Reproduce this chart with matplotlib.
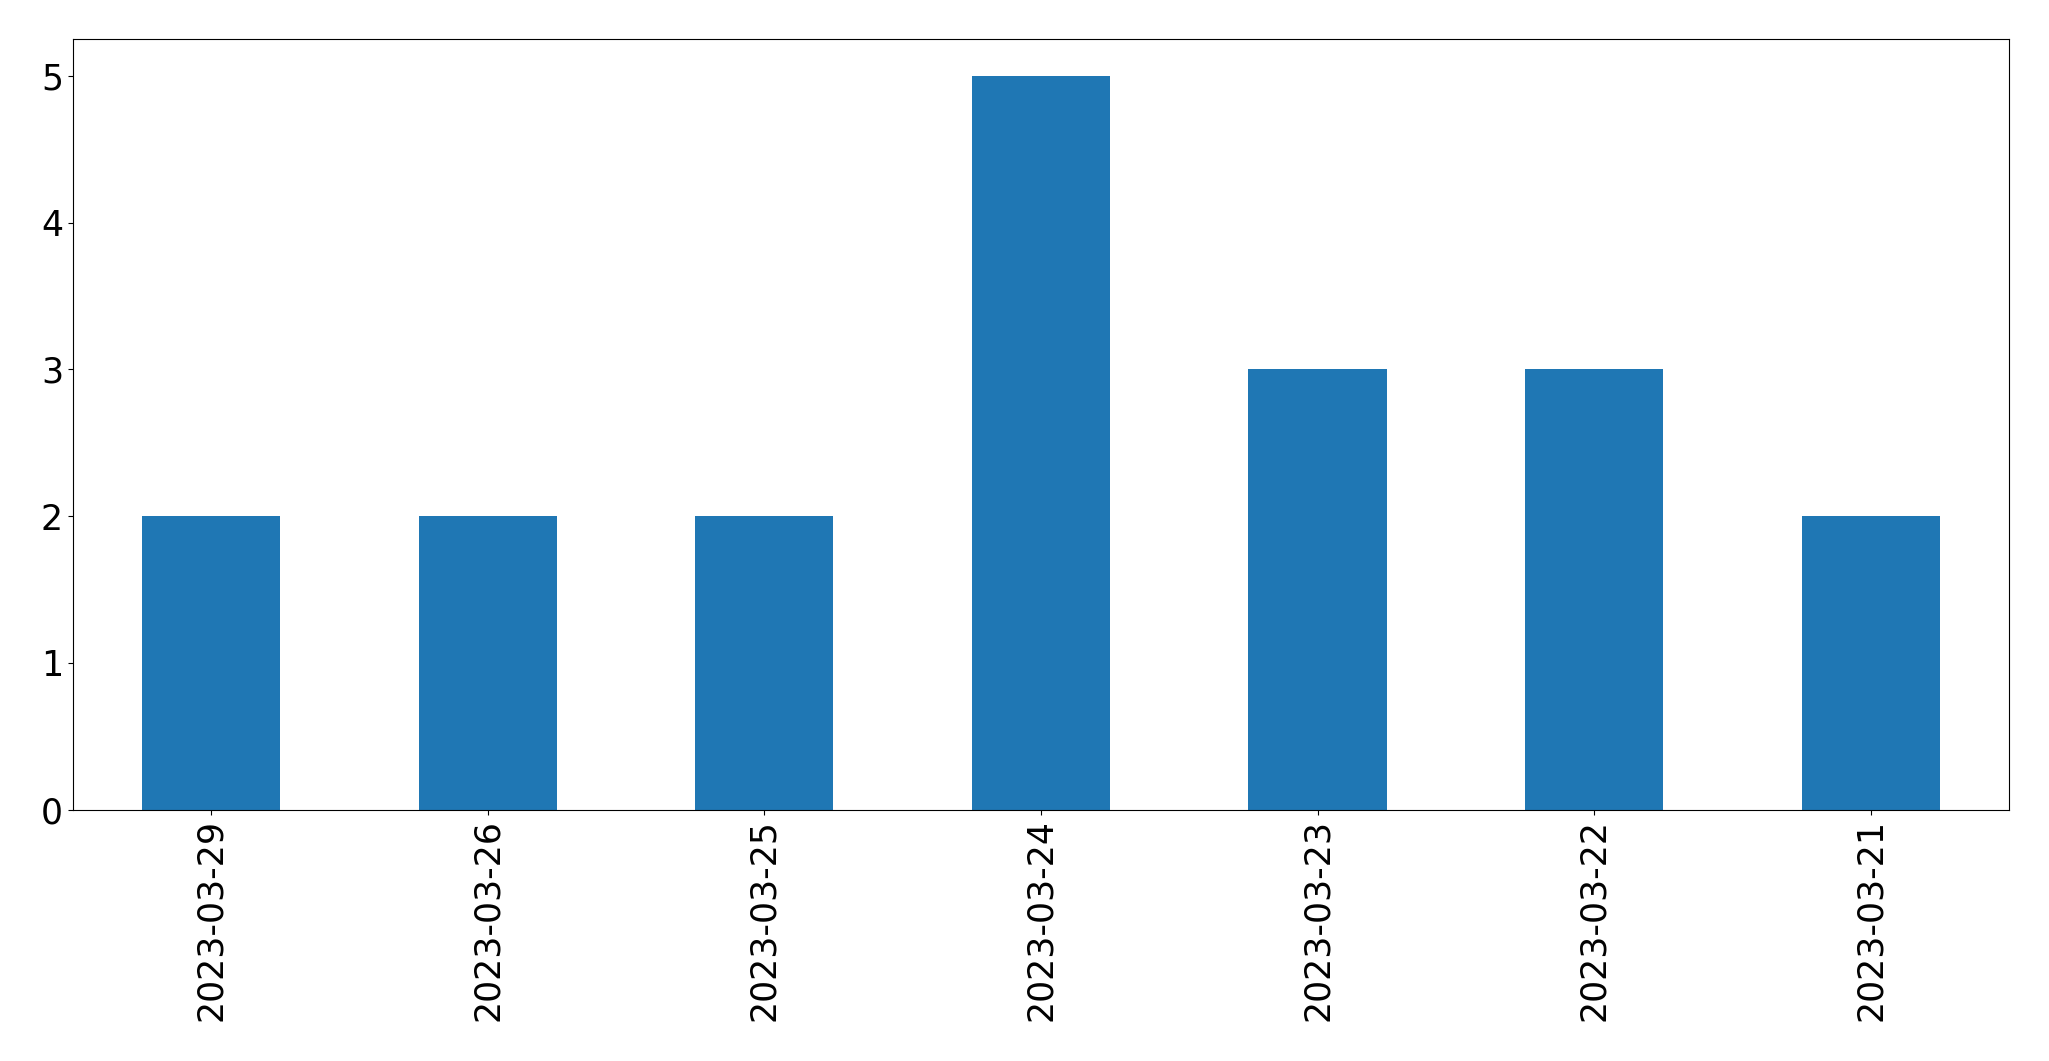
import matplotlib
matplotlib.use("Agg")
import matplotlib.pyplot as plt
import pandas as pd

# counts per day
dates = ["2023-03-29", "2023-03-26", "2023-03-25", "2023-03-24",
         "2023-03-23", "2023-03-22", "2023-03-21"]
counts = [2, 2, 2, 5, 3, 3, 2]


def main():
    series = pd.Series(counts, index=dates)

    fig, ax = plt.subplots(figsize=(20.49, 10.61), dpi=100)
    series.plot(kind="bar", ax=ax, color="#1f77b4")

    ax.tick_params(axis="both", labelsize=25)
    ax.set_yticks(range(0, 6))

    fig.subplots_adjust(left=0.0355, right=0.9805, top=0.963, bottom=0.237)
    fig.savefig("out.png", dpi=100)


if __name__ == "__main__":
    main()
